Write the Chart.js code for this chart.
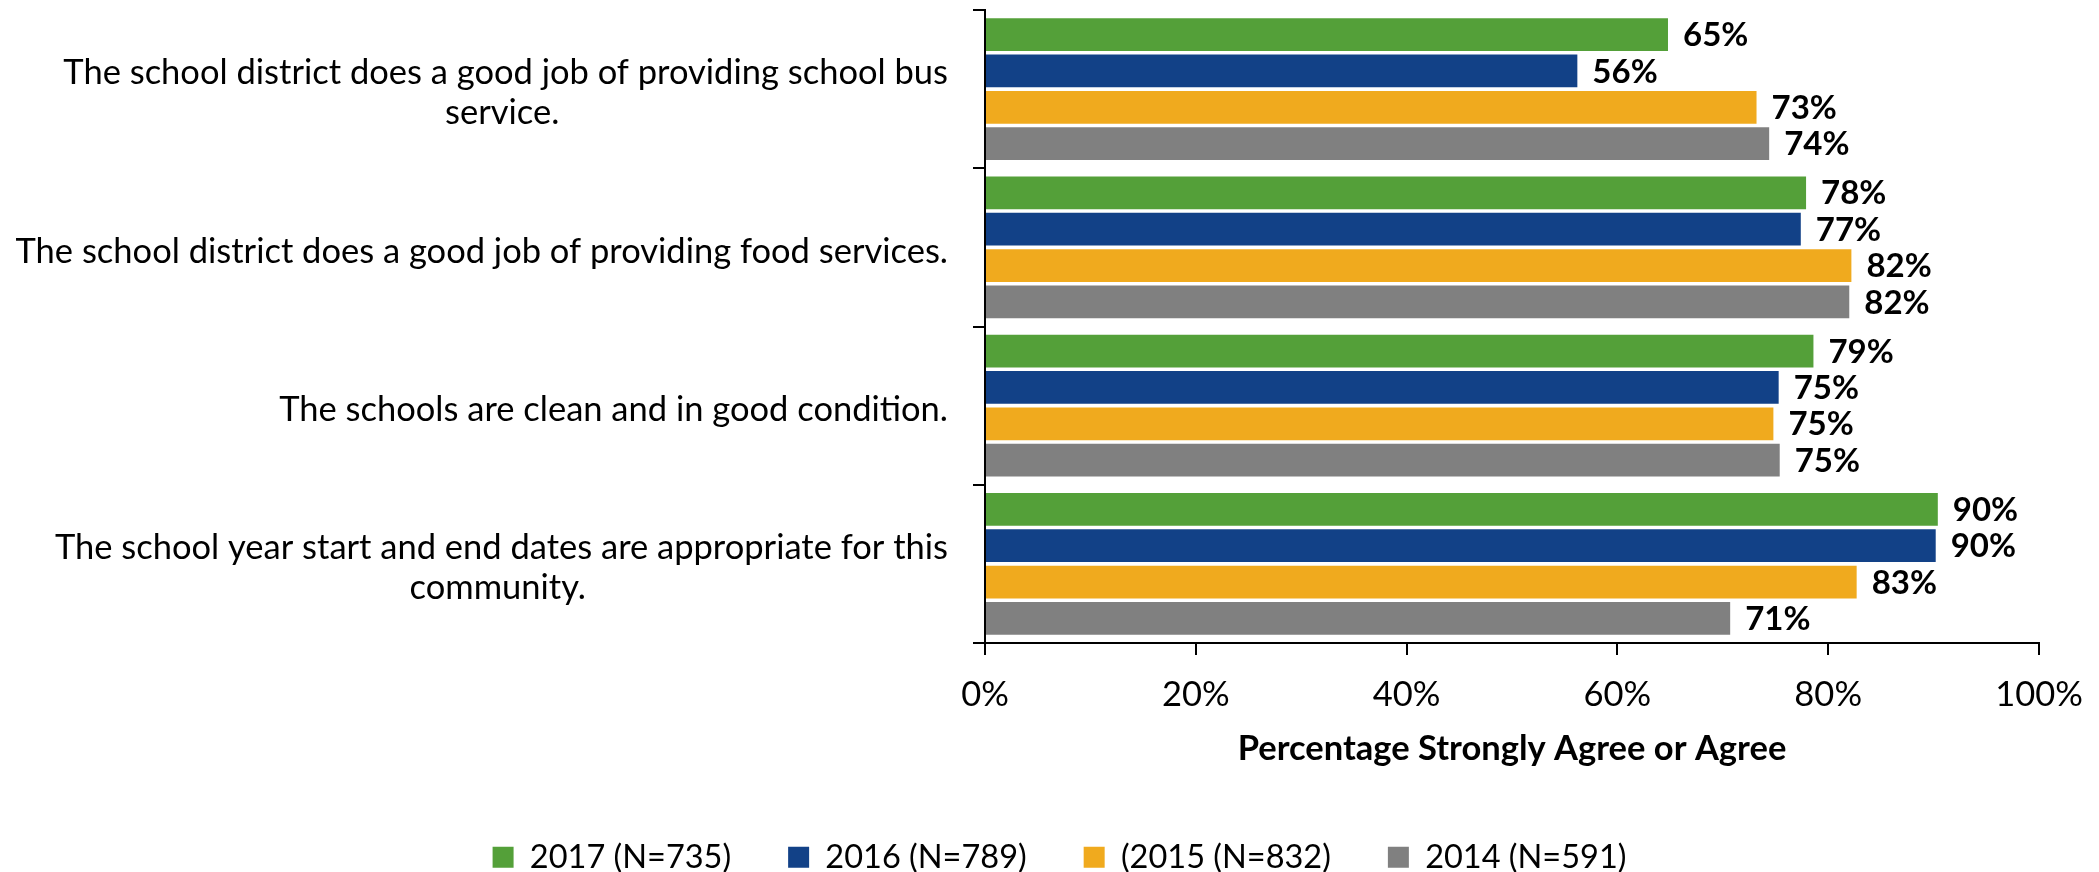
<!DOCTYPE html>
<html>
<head>
<meta charset="utf-8">
<script src="https://cdn.jsdelivr.net/npm/chart.js@4/dist/chart.umd.min.js"></script>
<style>
  body { margin: 0; background: #fff; }
  #wrap { width: 2099px; height: 872px; position: relative; }
</style>
</head>
<body>
<div id="wrap"><canvas id="surveyChart"></canvas></div>
<script>
// Survey statements (y axis categories)
const categories = [
  ['The school district does a good job of providing school bus', 'service.'],
  'The school district does a good job of providing food services.',
  'The schools are clean and in good condition.',
  ['The school year start and end dates are appropriate for this', 'community.']
];

// Series values (percent strongly agree or agree)
const values2017 = [64.8, 77.9, 78.6, 90.4];
const values2016 = [56.2, 77.4, 75.3, 90.2];
const values2015 = [73.2, 82.2, 74.8, 82.7];
const values2014 = [74.4, 82.0, 75.4, 70.7];

const seriesNames = ['2017 (N=735)', '2016 (N=789)', '(2015 (N=832)', '2014 (N=591)'];
const seriesColors = ['#54a039', '#124187', '#f0aa1e', '#808080'];

// x axis ticks
const xTicks = [0, 20, 40, 60, 80, 100];
const xTitle = 'Percentage Strongly Agree or Agree';

const FONT = 'Lato';
const labelFontSize = 34.5;

// pad the shorter lines so a wrapped label looks centred under the long line
const measureCtx = document.createElement('canvas').getContext('2d');
function centerLines(lines) {
  if (!Array.isArray(lines)) return lines;
  measureCtx.font = labelFontSize + 'px ' + FONT;
  const widths = lines.map(l => measureCtx.measureText(l).width);
  const maxW = Math.max(...widths);
  const space = measureCtx.measureText(' ').width;
  return lines.map((l, i) => l + ' '.repeat(Math.round((maxW - widths[i]) / 2 / space)));
}

// simple value labels at the end of each bar
const barValueLabels = {
  id: 'barValueLabels',
  afterDatasetsDraw(chart) {
    const ctx = chart.ctx;
    ctx.save();
    ctx.font = 'bold 33px ' + FONT;
    ctx.fillStyle = '#000';
    ctx.textAlign = 'left';
    ctx.textBaseline = 'middle';
    chart.data.datasets.forEach((ds, i) => {
      chart.getDatasetMeta(i).data.forEach((bar, j) => {
        ctx.fillText(Math.round(ds.data[j]) + '%', bar.x + 15, bar.y + 1);
      });
    });
    ctx.restore();
  }
};

// legend in the original sits a bit right of centre
const shiftLegend = {
  id: 'shiftLegend',
  afterLayout(chart) {
    chart.legend.left += 40;
    chart.legend.right += 40;
  }
};

const allValues = [values2017, values2016, values2015, values2014];

new Chart(document.getElementById('surveyChart'), {
  type: 'bar',
  data: {
    labels: categories,
    datasets: allValues.map((vals, i) => ({
      label: seriesNames[i],
      data: vals,
      backgroundColor: seriesColors[i],
      borderWidth: 0,
      categoryPercentage: 0.92,
      barPercentage: 0.9
    }))
  },
  options: {
    indexAxis: 'y',
    responsive: true,
    maintainAspectRatio: false,
    animation: false,
    layout: { padding: { top: 10, right: 60, left: 0, bottom: 0 } },
    plugins: {
      tooltip: { enabled: false },
      legend: {
        position: 'bottom',
        maxHeight: 88,
        labels: {
          color: '#000',
          font: { family: FONT, size: 32.5 },
          boxWidth: 21,
          boxHeight: 21,
          padding: 57
        }
      }
    },
    scales: {
      x: {
        min: 0,
        max: 100,
        afterBuildTicks: scale => { scale.ticks = xTicks.map(v => ({ value: v })); },
        afterFit: scale => {
          scale.height = 141;
          scale.paddingLeft = 0;
          scale.paddingRight = 0;
        },
        ticks: {
          color: '#000',
          font: { family: FONT, size: labelFontSize },
          padding: 19,
          callback: v => v + '%'
        },
        grid: {
          drawOnChartArea: false,
          drawTicks: true,
          tickLength: 12,
          tickColor: '#000',
          lineWidth: 2
        },
        border: { color: '#000', width: 2 },
        title: {
          display: true,
          text: xTitle,
          color: '#000',
          font: { family: FONT, size: 34.5, weight: 'bold' },
          padding: { top: 12, bottom: 14 }
        }
      },
      y: {
        afterFit: scale => {
          scale.width = 985;
          scale.paddingTop = 0;
          scale.paddingBottom = 0;
        },
        ticks: {
          color: '#000',
          font: { family: FONT, size: labelFontSize, lineHeight: 1.16 },
          padding: 25,
          labelOffset: 4,
          crossAlign: 'near',
          callback: function (value) {
            return centerLines(categories[value]);
          }
        },
        grid: {
          offset: true,
          drawOnChartArea: false,
          drawTicks: true,
          tickLength: 12,
          tickColor: '#000',
          lineWidth: 2
        },
        border: { color: '#000', width: 2 }
      }
    }
  },
  plugins: [barValueLabels, shiftLegend]
});
</script>
</body>
</html>
